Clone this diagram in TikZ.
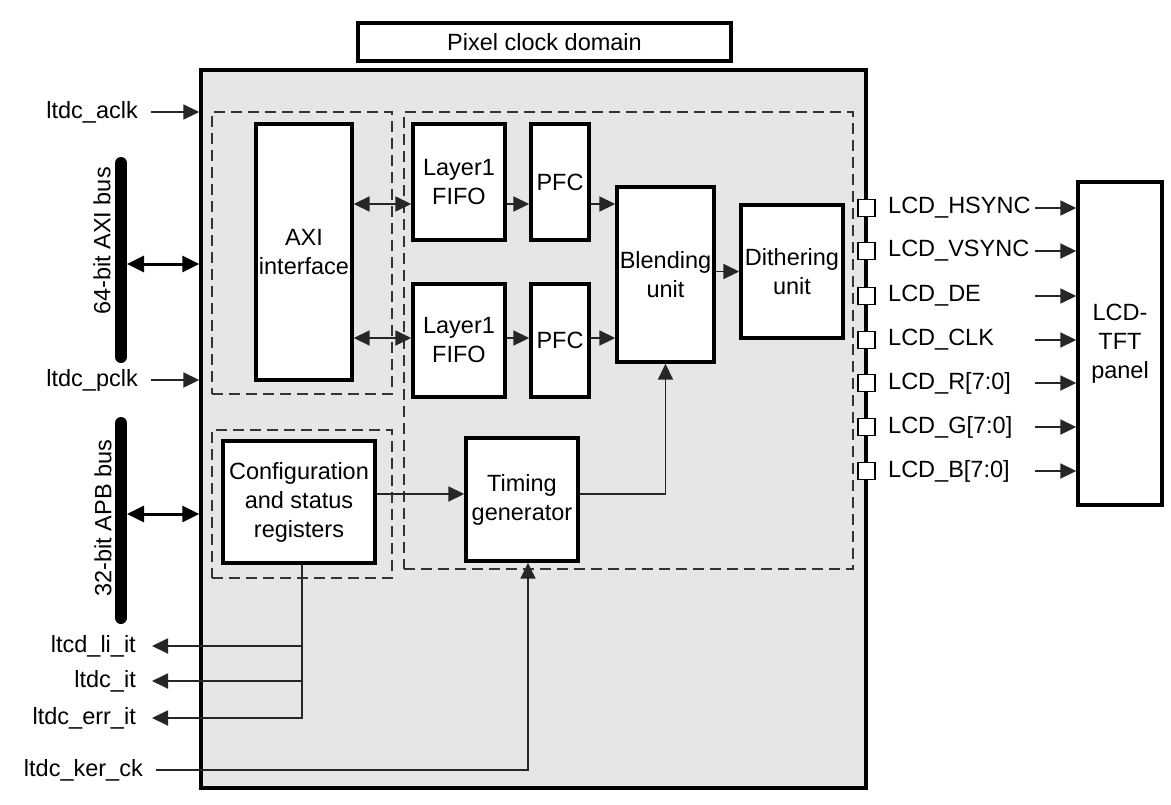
\documentclass[tikz,border=0pt]{standalone}
\usepackage{fontspec}
\setmainfont{Liberation Sans}
\usetikzlibrary{arrows.meta}
\definecolor{boxgray}{HTML}{E6E6E6}
\definecolor{dashgray}{HTML}{333333}
\begin{document}
\begin{tikzpicture}[x=1pt,y=-1pt,
  txt/.style={font=\fontsize{23.5}{29}\selectfont, inner sep=0pt, text=black},
  blk/.style={draw=black, line width=3.4pt, fill=white, inner sep=0pt, align=center, font=\fontsize{23.5}{29}\selectfont},
  dashbox/.style={draw=dashgray, line width=2.6pt, dash pattern=on 11pt off 6pt, inner sep=0pt},
  sig/.style={draw=black!85, line width=1.8pt},
  arr/.style={sig, -{Triangle[length=16pt,width=15pt]}},
  darr/.style={sig, {Triangle[length=16pt,width=15pt]}-{Triangle[length=16pt,width=15pt]}},
  busarr/.style={draw=black, line width=3pt, {Triangle[length=17pt,width=16pt]}-{Triangle[length=17pt,width=16pt]}},
  bus/.style={draw=black, line width=12pt, line cap=round},
  pin/.style={draw=black, line width=1.8pt, fill=white, minimum size=17pt, inner sep=0pt},
]
\useasboundingbox (0,0) rectangle (1171,804);

% frames
\node[blk, minimum width=373, minimum height=38] (pix) at (544.5,42) {Pixel clock domain};
\node[draw=black, line width=3.4pt, fill=boxgray, minimum width=665, minimum height=718, inner sep=0pt] (main) at (533.5,429) {};
\node[dashbox, minimum width=180, minimum height=282] (axidash) at (302,253) {};
\node[dashbox, minimum width=449, minimum height=457] (bigdash) at (628.5,340.5) {};
\node[dashbox, minimum width=180, minimum height=148] (cfgdash) at (302,504) {};

% blocks
\node[blk, minimum width=96, minimum height=256] (axi) at (304,252) {AXI\\interface};
\node[blk, minimum width=92, minimum height=116] (fifo1) at (459,182) {Layer1\\FIFO};
\node[blk, minimum width=58, minimum height=116] (pfc1) at (560,182) {PFC};
\node[blk, minimum width=92, minimum height=113] (fifo2) at (459,340.5) {Layer1\\FIFO};
\node[blk, minimum width=58, minimum height=113] (pfc2) at (560,340.5) {PFC};
\node[blk, minimum width=97, minimum height=175] (blend) at (665.5,274.5) {Blending\\unit};
\node[blk, minimum width=102, minimum height=133] (dith) at (792,271.5) {Dithering\\unit};
\node[blk, minimum width=112, minimum height=123] (timing) at (522,499.5) {Timing\\generator};
\node[blk, minimum width=152, minimum height=122] (cfg) at (299,502) {Configuration\\and status\\registers};
\node[blk, minimum width=84, minimum height=323] (panel) at (1120,343.5) {LCD-\\TFT\\panel};

% internal connectors
\coordinate (r1) at (0,204);
\coordinate (r2) at (0,338);
\coordinate (ty) at (0,494);
\draw[darr] (axi.east |- r1) -- (fifo1.west |- r1);
\draw[arr] (fifo1.east |- r1) -- (pfc1.west |- r1);
\draw[arr] (pfc1.east |- r1) -- (blend.west |- r1);
\draw[darr] (axi.east |- r2) -- (fifo2.west |- r2);
\draw[arr] (fifo2.east |- r2) -- (pfc2.west |- r2);
\draw[arr] (pfc2.east |- r2) -- (blend.west |- r2);
\draw[arr] (blend.east |- dith.west) -- (dith.west);
\draw[arr] (cfg.east |- ty) -- (timing.west |- ty);
\draw[arr] (timing.east |- ty) -| (blend.south);

% left side inputs
\node[txt, anchor=east] (aclk) at (138,112) {ltdc\_aclk};
\coordinate (acS) at (151,112);
\draw[arr] (acS) -- (main.west |- acS);
\node[txt, anchor=east] (pclk) at (138,380) {ltdc\_pclk};
\coordinate (pcS) at (151,380);
\draw[arr] (pcS) -- (main.west |- pcS);

% buses
\coordinate (axiT) at (121,163);
\coordinate (axiB) at (121,357);
\draw[bus] (axiT) -- (axiB);
\node[txt, rotate=90] (axilbl) at (102,241) {64-bit AXI bus};
\coordinate (axiA) at (127,264);
\draw[busarr] (axiA) -- (main.west |- axiA);

\coordinate (apbT) at (121,423);
\coordinate (apbB) at (121,618);
\draw[bus] (apbT) -- (apbB);
\node[txt, rotate=90] (apblbl) at (103,518) {32-bit APB bus};
\coordinate (apbA) at (127,514);
\draw[busarr] (apbA) -- (main.west |- apbA);

% interrupts
\node[txt, anchor=east] (li) at (136,646) {ltcd\_li\_it};
\node[txt, anchor=east] (it) at (136,681) {ltdc\_it};
\node[txt, anchor=east] (err) at (136,718) {ltdc\_err\_it};
\coordinate (liT) at (152,646);
\coordinate (itT) at (152,681);
\coordinate (errT) at (152,718);
\coordinate (cx) at (302,0);
\draw[arr] (cfg.south -| cx) |- (errT);
\draw[arr] (cx |- liT) -- (liT);
\draw[arr] (cx |- itT) -- (itT);

% kernel clock
\node[txt, anchor=east] (ker) at (143,770) {ltdc\_ker\_ck};
\coordinate (kS) at (156,770);
\coordinate (kx) at (528,770);
\draw[arr] (kS) -- (kx) -- (timing.south -| kx);

% output pins
\foreach \n/\t/\y in {hs/LCD\_HSYNC/208, vs/LCD\_VSYNC/251, de/LCD\_DE/296, ck/LCD\_CLK/340, r/{LCD\_R[7:0]}/383, g/{LCD\_G[7:0]}/427, b/{LCD\_B[7:0]}/471}{
  \node[pin] (p\n) at (866.5,\y) {};
  \node[txt, anchor=west] (l\n) at (888,\y) {\t};
  \coordinate (s\n) at (1035,\y);
  \draw[arr] (s\n) -- (panel.west |- s\n);
}
\end{tikzpicture}
\end{document}
